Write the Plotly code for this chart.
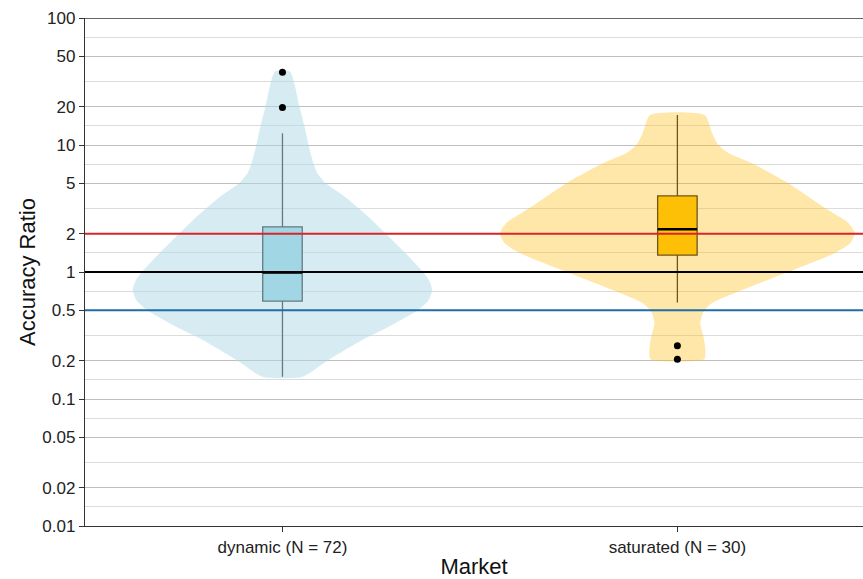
import numpy as np
import plotly.graph_objects as go

# ---- data -------------------------------------------------------------
markets = ["dynamic (N = 72)", "saturated (N = 30)"]
positions = [0, 1]

# violin outlines: ratio values and density half-widths (x-axis units)
dyn_violin_y = [37.8, 20.0, 13.9, 10.0, 7.21, 6.03, 5.02, 3.90, 3.19, 2.56,
                2.03, 1.41, 1.0, 0.85, 0.721, 0.60, 0.502, 0.369, 0.292,
                0.203, 0.150]
dyn_violin_w = [0.019, 0.043, 0.056, 0.066, 0.078, 0.088, 0.109, 0.159, 0.192,
                0.227, 0.260, 0.311, 0.356, 0.372, 0.379, 0.370, 0.343, 0.268,
                0.202, 0.116, 0.051]
sat_violin_y = [17.2, 12.4, 10.0, 8.65, 7.18, 5.02, 3.19, 2.43, 2.02, 1.69,
                1.41, 1.0, 0.721, 0.570, 0.486, 0.396, 0.310, 0.243, 0.2055]
sat_violin_w = [0.069, 0.088, 0.104, 0.129, 0.189, 0.280, 0.374, 0.433, 0.449,
                0.438, 0.399, 0.280, 0.164, 0.088, 0.066, 0.058, 0.066, 0.071,
                0.068]

# box statistics
q1 = [0.59, 1.36]
median = [0.99, 2.17]
q3 = [2.27, 3.97]
lower_whisker = [0.15, 0.574]
upper_whisker = [12.4, 17.2]
outliers = [[37.4, 19.7], [0.263, 0.2055]]

# reference ratios
ref_values = [2, 1, 0.5]
ref_colors = ["#d7262b", "#000000", "#1f6ea8"]

tick_vals = [0.01, 0.02, 0.05, 0.1, 0.2, 0.5, 1, 2, 5, 10, 20, 50, 100]
tick_text = ["0.01", "0.02", "0.05", "0.1", "0.2", "0.5", "1", "2", "5",
             "10", "20", "50", "100"]

violin_fill = ["rgba(173,216,230,0.5)", "rgba(253,190,20,0.37)"]
box_fill = ["#95d6e5", "#ffc000"]
box_width = 0.1
x_range = [-0.5, 1.47]

# minor gridlines halfway (in log space) between major breaks
minor_vals = [float(np.sqrt(a * b)) for a, b in zip(tick_vals[:-1], tick_vals[1:])]

fig = go.Figure()

# violins
for pos, vy, vw, col in [(positions[0], dyn_violin_y, dyn_violin_w, violin_fill[0]),
                         (positions[1], sat_violin_y, sat_violin_w, violin_fill[1])]:
    ys = list(vy[::-1]) + list(vy)
    xs = [pos - w for w in vw[::-1]] + [pos + w for w in vw]
    fig.add_trace(go.Scatter(x=xs + [xs[0]], y=ys + [ys[0]], mode="lines",
                             fill="toself", fillcolor=col,
                             line=dict(width=0, shape="spline", smoothing=0.6),
                             hoverinfo="skip", showlegend=False))

# reference lines
for val, col in zip(ref_values, ref_colors):
    fig.add_trace(go.Scatter(x=x_range, y=[val, val], mode="lines",
                             line=dict(color=col, width=1.8),
                             hoverinfo="skip", showlegend=False))

# boxes
for i, pos in enumerate(positions):
    fig.add_trace(go.Box(x=[pos], q1=[q1[i]], median=[median[i]], q3=[q3[i]],
                         lowerfence=[lower_whisker[i]], upperfence=[upper_whisker[i]],
                         width=box_width, whiskerwidth=0, fillcolor=box_fill[i],
                         line=dict(color="#1a1a1a", width=1.3),
                         boxpoints=False, showlegend=False))
    # thicker median bar
    fig.add_trace(go.Scatter(x=[pos - box_width / 2, pos + box_width / 2],
                             y=[median[i], median[i]], mode="lines",
                             line=dict(color="#000000", width=2.6),
                             hoverinfo="skip", showlegend=False))
    # outlying points
    fig.add_trace(go.Scatter(x=[pos] * len(outliers[i]), y=outliers[i],
                             mode="markers",
                             marker=dict(color="#000000", size=7),
                             showlegend=False))

# dark line along the top of the panel
fig.add_shape(type="line", xref="paper", yref="y", x0=0, x1=1, y0=100, y1=100,
              line=dict(color="#333333", width=1.3), layer="above")

font_family = "Liberation Sans, Arial, sans-serif"
fig.update_layout(
    width=863, height=579,
    margin=dict(l=85, r=0, t=18, b=53),
    plot_bgcolor="white", paper_bgcolor="white",
    font=dict(family=font_family, color="#222222"),
    xaxis=dict(range=x_range, tickmode="array", tickvals=positions,
               ticktext=markets, showgrid=False, zeroline=False,
               showline=True, linecolor="#333333", linewidth=1.3,
               ticks="outside", ticklen=5, tickcolor="#333333",
               tickfont=dict(size=17, color="#222222"),
               title=dict(text="Market", font=dict(size=22, color="#111111"),
                          standoff=4)),
    yaxis=dict(type="log", range=[-2, 2], tickmode="array", tickvals=tick_vals,
               ticktext=tick_text, showgrid=True, gridcolor="#bebebe",
               gridwidth=1.2, zeroline=False, showline=True,
               linecolor="#333333", linewidth=1.3, ticks="outside", ticklen=5,
               tickcolor="#333333", tickfont=dict(size=17, color="#222222"),
               minor=dict(tickmode="array", tickvals=minor_vals, showgrid=True,
                          gridcolor="#dcdcdc", gridwidth=1, ticks=""),
               title=dict(text="Accuracy Ratio", font=dict(size=22, color="#111111"),
                          standoff=0)),
)

fig.write_html("out.html")
